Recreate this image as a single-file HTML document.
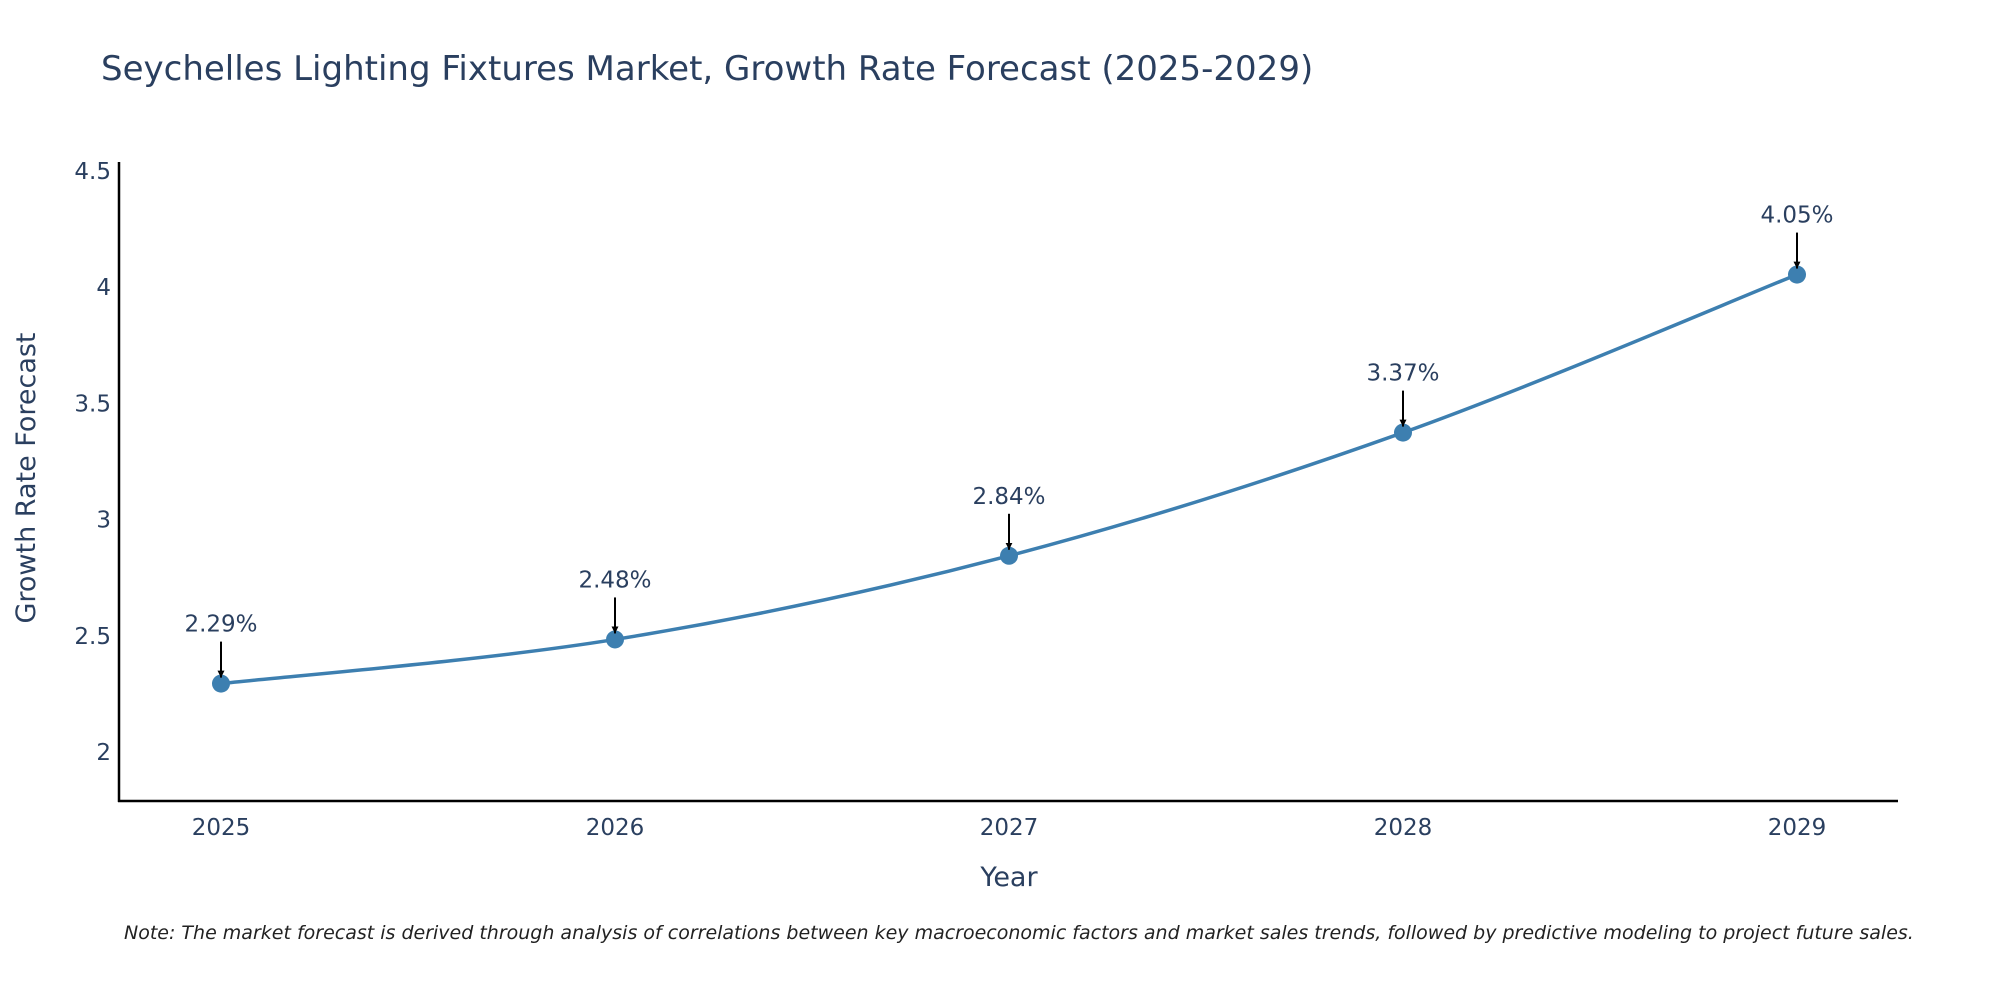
<!DOCTYPE html>
<html><head><meta charset="utf-8"><style>
html,body{margin:0;padding:0;background:#fff;}
svg text{font-family:"DejaVu Sans","Liberation Sans",sans-serif;fill:#2a3f5f;}
</style></head><body>
<svg width="2000" height="1000" xmlns="http://www.w3.org/2000/svg">
<text x="101" y="80" font-size="34">Seychelles Lighting Fixtures Market, Growth Rate Forecast (2025-2029)</text>
<g id="yticks"></g><g id="xticks"></g>
<line x1="119" y1="162" x2="119" y2="802" stroke="#000" stroke-width="2.5"/>
<line x1="118" y1="801" x2="1898" y2="801" stroke="#000" stroke-width="2.5"/>
<path id="series" fill="none" stroke="#3d7fb0" stroke-width="3.5"/>
<g id="marks"></g>
<text x="1009" y="886" font-size="27" text-anchor="middle">Year</text>
<text transform="translate(35,478) rotate(-90)" font-size="27" text-anchor="middle">Growth Rate Forecast</text>
<text x="124" y="939" font-size="19" font-style="italic" style="fill:#222">Note: The market forecast is derived through analysis of correlations between key macroeconomic factors and market sales trends, followed by predictive modeling to project future sales.</text>
<defs><marker id="ah" viewBox="0 0 10 10" refX="10" refY="5" markerWidth="7" markerHeight="7" markerUnits="userSpaceOnUse" orient="auto"><path d="M0,0L10,5L0,10z" fill="#000"/></marker></defs>
</svg>
<script>
const years=[2025,2026,2027,2028,2029];
const values=[2.29,2.48,2.84,3.37,4.05];
const labels=["2.29%","2.48%","2.84%","3.37%","4.05%"];
const yTicks=[2,2.5,3,3.5,4,4.5];
const yTickLabels=["2","2.5","3","3.5","4","4.5"];
const NS="http://www.w3.org/2000/svg";
function xs(v){return 221+(v-2025)*394;}
function ys(v){return 751-(v-2)*232.4;}
function mk(t,a,p){const e=document.createElementNS(NS,t);for(const k in a)e.setAttribute(k,a[k]);p.appendChild(e);return e;}
const yt=document.getElementById('yticks');
yTicks.forEach((v,i)=>{const t=mk('text',{x:111,y:ys(v)+9,'font-size':23,'text-anchor':'end'},yt);


t.textContent=yTickLabels[i];});
const xt=document.getElementById('xticks');
years.forEach(v=>{const t=mk('text',{x:xs(v),y:835,'font-size':23,'text-anchor':'middle'},xt);


t.textContent=v;});
const P=years.map((y,i)=>[xs(y),ys(values[i])]);
let d='M'+P[0][0]+','+P[0][1];
for(let i=0;i<P.length-1;i++){const p0=P[Math.max(0,i-1)],p1=P[i],p2=P[i+1],p3=P[Math.min(P.length-1,i+2)];
const c1=[p1[0]+(p2[0]-p0[0])/6,p1[1]+(p2[1]-p0[1])/6],c2=[p2[0]-(p3[0]-p1[0])/6,p2[1]-(p3[1]-p1[1])/6];
d+=` C${c1[0]},${c1[1]} ${c2[0]},${c2[1]} ${p2[0]},${p2[1]}`;}
document.getElementById('series').setAttribute('d',d);
const g=document.getElementById('marks');
P.forEach((p,i)=>{const c=mk('circle',{cx:p[0],cy:p[1],r:9,fill:'#3d7fb0'},g);


const l=mk('line',{x1:p[0],y1:p[1]-42,x2:p[0],y2:p[1]-6,stroke:'#000','stroke-width':2,'marker-end':'url(#ah)'},g);


const t=mk('text',{x:p[0],y:p[1]-52,'font-size':23,'text-anchor':'middle'},g);


t.textContent=labels[i];});
</script>
</body></html>
